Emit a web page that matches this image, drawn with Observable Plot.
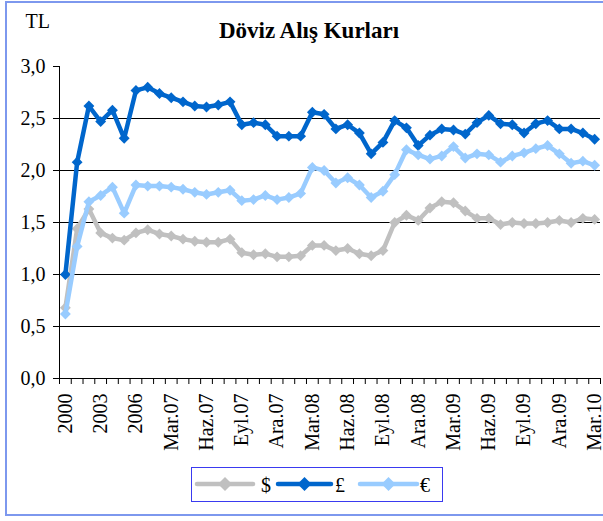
<!DOCTYPE html>
<html>
<head>
<meta charset="utf-8">
<script src="https://cdn.jsdelivr.net/npm/d3@7"></script>
<script src="https://cdn.jsdelivr.net/npm/@observablehq/plot@0.6"></script>
<style>
  html, body { margin: 0; padding: 0; background: #fff; overflow: hidden; }
  #wrap { position: relative; width: 603px; height: 521px; overflow: hidden; }
  #frame { position: absolute; left: 5px; top: 1px; width: 620px; height: 515px; border: 2px solid #7d98ee; box-sizing: border-box; pointer-events: none; }
  #chart { position: absolute; left: 0; top: 0; }
  #legend { position: absolute; left: 191px; top: 467px; }
</style>
</head>
<body>
<div id="wrap">
  <div id="chart"></div>
  <div id="legend"></div>
  <div id="frame"></div>
</div>
<script>
const categories = ["2000","2001","2002","2003","2004","2005","2006",
  "Oca.07","Şub.07","Mar.07","Nis.07","May.07","Haz.07","Tem.07","Ağu.07","Eyl.07","Eki.07","Kas.07","Ara.07",
  "Oca.08","Şub.08","Mar.08","Nis.08","May.08","Haz.08","Tem.08","Ağu.08","Eyl.08","Eki.08","Kas.08","Ara.08",
  "Oca.09","Şub.09","Mar.09","Nis.09","May.09","Haz.09","Tem.09","Ağu.09","Eyl.09","Eki.09","Kas.09","Ara.09",
  "Oca.10","Şub.10","Mar.10"];

const usd = [0.68,1.44,1.63,1.40,1.35,1.33,1.40,
  1.43,1.39,1.37,1.34,1.32,1.31,1.31,1.34,1.21,1.19,1.20,1.17,
  1.17,1.18,1.28,1.28,1.23,1.25,1.20,1.18,1.23,1.50,1.57,1.52,
  1.64,1.70,1.69,1.61,1.54,1.54,1.48,1.50,1.49,1.49,1.50,1.52,
  1.50,1.54,1.53];

const gbp = [1.00,2.08,2.62,2.47,2.58,2.31,2.77,
  2.80,2.74,2.70,2.66,2.62,2.61,2.63,2.66,2.44,2.46,2.44,2.33,
  2.33,2.33,2.56,2.54,2.40,2.44,2.36,2.16,2.27,2.48,2.41,2.24,
  2.34,2.40,2.39,2.35,2.46,2.53,2.45,2.44,2.36,2.45,2.48,2.40,
  2.40,2.36,2.30];

const eur = [0.62,1.27,1.70,1.76,1.84,1.59,1.86,
  1.85,1.85,1.84,1.82,1.79,1.77,1.79,1.81,1.71,1.72,1.76,1.72,
  1.74,1.78,2.03,2.00,1.88,1.93,1.86,1.74,1.80,1.96,2.20,2.15,
  2.11,2.14,2.23,2.12,2.16,2.15,2.08,2.14,2.17,2.21,2.24,2.16,
  2.07,2.09,2.05];

const seriesNames = ["$", "£", "€"];
const seriesColors = ["#c0c0c0", "#0066cc", "#99ccff"];
const yTicks = [0, 0.5, 1, 1.5, 2, 2.5, 3];
const gridValues = [0.5, 1, 1.5, 2, 2.5];
const labelEvery = 3;
const titleText = "Döviz Alış Kurları";
const yUnit = "TL";

const allSeries = [usd, gbp, eur];
const data = allSeries.flatMap((vals, s) => vals.map((v, i) => ({i, value: v, series: seriesNames[s]})));

const n = categories.length;
const serif = "'Liberation Serif', 'Times New Roman', serif";

const seriesMarks = seriesNames.flatMap((name, s) => {
  const d = data.filter(r => r.series === name);
  return [
    Plot.line(d, {x: "i", y: "value", stroke: seriesColors[s], strokeWidth: 4.5, strokeLinejoin: "round"}),
    Plot.dot(d, {x: "i", y: "value", symbol: "diamond2", r: 4.9, fill: seriesColors[s], stroke: "none"})
  ];
});

const chart = Plot.plot({
  width: 603,
  height: 462,
  marginLeft: 59,
  marginRight: 3,
  marginTop: 66,
  marginBottom: 84,
  style: {fontFamily: serif, fontSize: "20px", color: "#000", background: "transparent"},
  x: {type: "linear", domain: [-0.5, n - 0.5], axis: null},
  y: {domain: [0, 3], axis: null},
  marks: [
    Plot.ruleY(gridValues, {stroke: "#000", strokeWidth: 1}),
    Plot.ruleY([0], {stroke: "#000", strokeWidth: 1}),
    Plot.ruleX([-0.5], {y1: 0, y2: 3, stroke: "#000", strokeWidth: 1}),
    Plot.axisY({ticks: yTicks, tickSize: 6, tickPadding: 8, tickFormat: d => d.toFixed(1).replace(".", ","), label: null, fontSize: 20, stroke: "#000"}),
    Plot.axisX({ticks: d3.range(-0.5, n, 1), tickSize: 6, tickFormat: () => "", label: null, stroke: "#000"}),
    Plot.axisX({ticks: d3.range(0, n, labelEvery), tickSize: 0, tickPadding: 15, tickRotate: -90, tickFormat: i => categories[i], label: null, fontSize: 20}),
    ...seriesMarks,
    Plot.text([titleText], {frameAnchor: "top", dx: -21, dy: -36, fontWeight: "bold", fontSize: 23, lineAnchor: "middle"}),
    Plot.text([yUnit], {frameAnchor: "top-left", dx: -34, dy: -45, textAnchor: "start", fontSize: 20, lineAnchor: "middle"})
  ]
});
document.getElementById("chart").appendChild(chart);

// Legend
const lw = 252, lh = 35;
const lsvg = d3.select("#legend").append("svg").attr("width", lw).attr("height", lh);
lsvg.append("rect").attr("x", 0.5).attr("y", 0.5).attr("width", lw - 1).attr("height", lh - 1)
  .attr("fill", "#fff").attr("stroke", "#3a3af0").attr("stroke-width", 1);
const items = [
  {x0: 6, x1: 62, tx: 70},
  {x0: 87, x1: 140, tx: 144},
  {x0: 169, x1: 226, tx: 229}
];
items.forEach((it, s) => {
  const cy = 17;
  lsvg.append("line").attr("x1", it.x0).attr("x2", it.x1).attr("y1", cy).attr("y2", cy)
    .attr("stroke", seriesColors[s]).attr("stroke-width", 4.5).attr("stroke-linecap", "round");
  const cx = (it.x0 + it.x1) / 2;
  lsvg.append("path").attr("d", `M${cx},${cy - 7}L${cx + 7},${cy}L${cx},${cy + 7}L${cx - 7},${cy}Z`).attr("fill", seriesColors[s]);
  lsvg.append("text").attr("x", it.tx).attr("y", 25).attr("font-family", serif).attr("font-size", 20)
    .attr("fill", "#000").text(seriesNames[s]);
});
</script>
</body>
</html>
